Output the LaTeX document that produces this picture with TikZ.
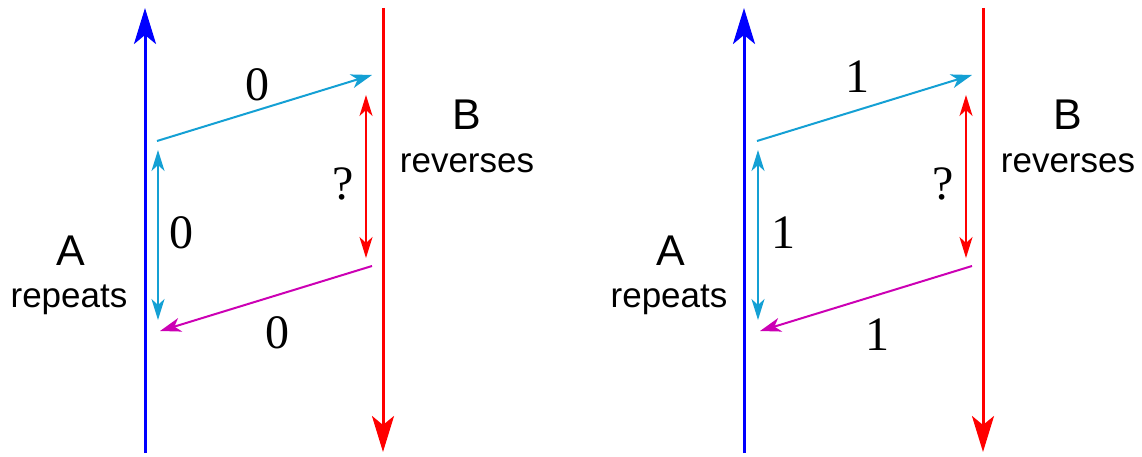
\documentclass[tikz,border=0pt]{standalone}
\usepackage{fontspec}
\setmainfont{Liberation Serif}
\setsansfont{Liberation Sans}
\usetikzlibrary{arrows.meta}
\definecolor{mblue}{RGB}{0,0,255}
\definecolor{mred}{RGB}{255,0,0}
\definecolor{mcyan}{RGB}{20,160,212}
\definecolor{mmag}{RGB}{204,0,180}
\tikzset{
  timeline/.style={line width=3pt,-{Stealth[length=36pt,width=22pt,inset=9pt]}},
  msg/.style={line width=2pt,-{Stealth[length=21pt,width=14pt,inset=6pt]}},
  span/.style={line width=2pt,{Stealth[length=21pt,width=13pt,inset=6pt]}-{Stealth[length=21pt,width=13pt,inset=6pt]}},
  digit/.style={anchor=base,inner sep=0pt,font=\fontsize{48}{48}\selectfont},
  big/.style={anchor=base,inner sep=0pt,font=\sffamily\fontsize{43}{43}\selectfont},
  word/.style={anchor=base,inner sep=0pt,font=\sffamily\fontsize{35}{35}\selectfont},
}
\begin{document}
\begin{tikzpicture}[x=1pt,y=-1pt]
\useasboundingbox (0,0) rectangle (1142,457);
% ---- left panel
\coordinate (La0) at (145,453); \coordinate (La1) at (145,8);
\coordinate (Lb0) at (383,8);   \coordinate (Lb1) at (383,452);
\coordinate (Ls0) at (157,141); \coordinate (Ls1) at (372,75);
\coordinate (Lr0) at (366,95);  \coordinate (Lr1) at (366,258);
\coordinate (Lc0) at (158,150); \coordinate (Lc1) at (158,320);
\coordinate (Lm0) at (372,266); \coordinate (Lm1) at (160,331);
\draw[timeline,mblue] (La0) -- (La1);
\draw[timeline,mred] (Lb0) -- (Lb1);
\draw[msg,mcyan] (Ls0) -- (Ls1);
\draw[span,mred] (Lr0) -- (Lr1);
\draw[span,mcyan] (Lc0) -- (Lc1);
\draw[msg,mmag] (Lm0) -- (Lm1);
\node[digit] (Ld1) at (257,101) {0};
\node[digit] (Ld2) at (181,248) {0};
\node[digit] (Ld3) at (277,348) {0};
\node[digit] (Lq) at (343,199) {?};
\node[big] (LA) at (71,265) {A};
\node[word] (Lrep) at (69,307) {repeats};
\node[big] (LB) at (467,130) {B};
\node[word] (Lrev) at (467,172) {reverses};
% ---- right panel
\coordinate (Ra0) at (744,453); \coordinate (Ra1) at (744,8);
\coordinate (Rb0) at (983,8);   \coordinate (Rb1) at (983,452);
\coordinate (Rs0) at (757,141); \coordinate (Rs1) at (972,75);
\coordinate (Rr0) at (966,95);  \coordinate (Rr1) at (966,258);
\coordinate (Rc0) at (758,150); \coordinate (Rc1) at (758,320);
\coordinate (Rm0) at (972,266); \coordinate (Rm1) at (760,331);
\draw[timeline,mblue] (Ra0) -- (Ra1);
\draw[timeline,mred] (Rb0) -- (Rb1);
\draw[msg,mcyan] (Rs0) -- (Rs1);
\draw[span,mred] (Rr0) -- (Rr1);
\draw[span,mcyan] (Rc0) -- (Rc1);
\draw[msg,mmag] (Rm0) -- (Rm1);
\node[digit] (Rd1) at (857,93) {1};
\node[digit] (Rd2) at (783,248) {1};
\node[digit] (Rd3) at (877,350) {1};
\node[digit] (Rq) at (943,199) {?};
\node[big] (RA) at (671,265) {A};
\node[word] (Rrep) at (669,307) {repeats};
\node[big] (RB) at (1068,130) {B};
\node[word] (Rrev) at (1068,172) {reverses};
\end{tikzpicture}
\end{document}
